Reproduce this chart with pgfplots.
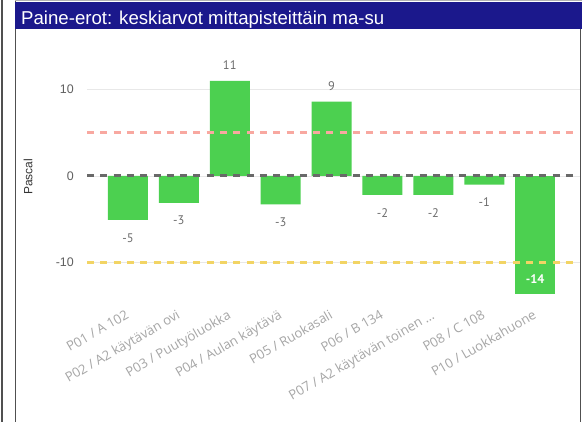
\documentclass[border=0pt]{standalone}
\usepackage{fontspec}
\setmainfont{Liberation Sans}
\newfontfamily\labfont{Open Sans}
\newfontfamily\dinfont{PT Sans}
\usepackage{pgfplots}
\pgfplotsset{compat=1.18}
\definecolor{titlebar}{RGB}{27,24,140}
\definecolor{bargreen}{RGB}{76,208,80}
\definecolor{refred}{RGB}{248,168,160}
\definecolor{refyellow}{RGB}{242,212,100}
\definecolor{zerogray}{RGB}{105,105,105}
\definecolor{framegray}{RGB}{80,80,80}
\pgfplotstableread{
x y lab
2 11.0 {11}
4 8.6 {9}
}\posdata
\pgfplotstableread{
x y lab
0 -5.09 {-5}
1 -3.1 {-3}
3 -3.3 {-3}
5 -2.2 {-2}
6 -2.2 {-2}
7 -1.0 {-1}
}\negdata
\pgfplotstableread{
x y lab
8 -13.6 {-14}
}\lastbar
\begin{document}
\begin{tikzpicture}
\path[use as bounding box] (0,0) rectangle (582bp,-422bp);
\fill[white] (0,0) rectangle (582bp,-422bp);
\draw[framegray, line width=1.2bp] (2bp,0) -- (2bp,-422bp);
\draw[framegray, line width=1.5bp] (15.5bp,0) -- (15.5bp,-422bp);
\draw[framegray, line width=1.5bp] (580.5bp,-29bp) -- (580.5bp,-422bp);
\fill[titlebar] (15bp,-1.5bp) rectangle (582bp,-29bp);
\draw[gray!60, line width=0.8bp] (15bp,-0.6bp) -- (582bp,-0.6bp);
\node[anchor=base west, text=white, inner sep=0pt, font=\fontsize{18.7}{20}\selectfont] at (21bp,-24bp) {Paine-erot: keskiarvot mittapisteittäin ma-su};
\begin{axis}[
  at={(87bp,-297bp)}, anchor=south west, scale only axis,
  width=493bp, height=250.75bp,
  xmin=-0.805, xmax=8.88, ymin=-14, ymax=15,
  axis line style={draw=none}, major tick length=0pt,
  /pgf/number format/assume math mode=true,
  ytick={-10,0,10}, ymajorgrids,
  grid style={gray!18, line width=0.8bp},
  xtick={0,1,2,3,4,5,6,7,8},
  xticklabels={P01 / A 102, P02 / A2 käytävän ovi, P03 / Puutyöluokka, P04 / Aulan käytävä, P05 / Ruokasali, P06 / B 134, {P07 / A2 käytävän toinen \ldots}, P08 / C 108, P10 / Luokkahuone},
  xticklabel style={yshift=-12bp, xshift=-3bp, rotate=30, anchor=north east, font=\labfont\fontsize{13.2}{13}\selectfont, text=gray!70, inner sep=0pt},
  yticklabel style={font=\fontsize{12.5}{12}\selectfont, text=gray!75!black, anchor=east, inner sep=0pt, xshift=-13bp},
  ylabel={Pascal},
  every axis y label/.style={at={(axis description cs:-0.1197,0.4786)}, rotate=90, anchor=center, font=\fontsize{12}{12}\selectfont, text=black!80},
  ybar, bar width=40bp, bar shift=0pt,
  clip=false,
]
\addplot[fill=bargreen, draw=none, nodes near coords,
  point meta=explicit symbolic,
  every node near coord/.style={anchor=south, font=\dinfont\fontsize{12.5}{12}\selectfont, text=gray!85!black, inner xsep=0pt, inner ysep=11bp, outer sep=0pt}]
  table[x=x, y=y, meta=lab] {\posdata};
\addplot[fill=bargreen, draw=none, nodes near coords,
  point meta=explicit symbolic,
  every node near coord/.style={anchor=north, font=\dinfont\fontsize{12.5}{12}\selectfont, text=gray!85!black, inner xsep=0pt, inner ysep=13.5bp, outer sep=0pt}]
  table[x=x, y=y, meta=lab] {\negdata};
\addplot[fill=bargreen, draw=none, nodes near coords,
  point meta=explicit symbolic,
  every node near coord/.style={anchor=south, font=\dinfont\bfseries\fontsize{12.5}{12}\selectfont, text=white, inner xsep=0pt, inner ysep=9.6bp, outer sep=0pt}]
  table[x=x, y=y, meta=lab] {\lastbar};
\draw[refred, line width=3bp, dash pattern=on 7bp off 6.3bp] (axis cs:-0.805,5) -- (axis cs:8.8,5);
\draw[refyellow, line width=3bp, dash pattern=on 7bp off 6.3bp] (axis cs:-0.805,-10) -- (axis cs:8.8,-10);
\draw[zerogray, line width=3bp, dash pattern=on 7bp off 6.3bp] (axis cs:-0.805,0) -- (axis cs:8.8,0);
\end{axis}
\end{tikzpicture}
\end{document}
